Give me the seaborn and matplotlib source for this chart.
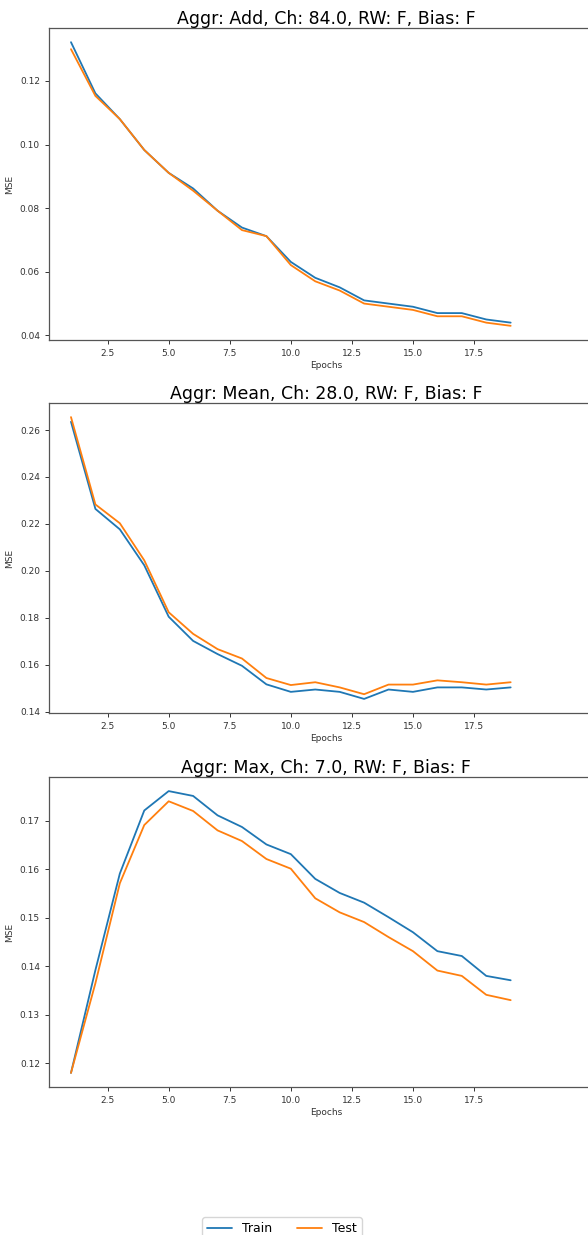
import numpy as np
import pandas as pd
import matplotlib
matplotlib.use("Agg")
import matplotlib.pyplot as plt
import seaborn as sns

epochs = list(range(1, 20))

titles = [
    "Aggr: Add, Ch: 84.0, RW: F, Bias: F",
    "Aggr: Mean, Ch: 28.0, RW: F, Bias: F",
    "Aggr: Max, Ch: 7.0, RW: F, Bias: F",
]

add_train = [0.1322, 0.1161, 0.108, 0.0983, 0.0911, 0.0862, 0.0792, 0.0739, 0.0712, 0.0631,
             0.0581, 0.0551, 0.051, 0.050, 0.049, 0.047, 0.047, 0.045, 0.044]
add_test = [0.130, 0.1153, 0.108, 0.0983, 0.0911, 0.0855, 0.0792, 0.0731, 0.0712, 0.0621,
            0.057, 0.0541, 0.050, 0.049, 0.048, 0.046, 0.046, 0.044, 0.043]

mean_train = [0.2635, 0.2264, 0.2177, 0.2024, 0.1805, 0.1702, 0.1646, 0.1596, 0.1517, 0.1485,
              0.1495, 0.1485, 0.1455, 0.1495, 0.1485, 0.1504, 0.1504, 0.1495, 0.1504]
mean_test = [0.2655, 0.2283, 0.2203, 0.2045, 0.1824, 0.1732, 0.1667, 0.1627, 0.1544, 0.1514,
             0.1526, 0.1504, 0.1475, 0.1516, 0.1516, 0.1534, 0.1526, 0.1516, 0.1526]

max_train = [0.118, 0.1392, 0.1591, 0.1721, 0.1761, 0.1751, 0.1711, 0.1687, 0.1651, 0.1631,
             0.158, 0.1551, 0.1531, 0.1501, 0.147, 0.1431, 0.1421, 0.138, 0.1371]
max_test = [0.118, 0.1365, 0.1571, 0.1691, 0.174, 0.172, 0.168, 0.1658, 0.1621, 0.1601,
            0.154, 0.1511, 0.1491, 0.146, 0.1431, 0.1391, 0.138, 0.1341, 0.133]

series = [(add_train, add_test), (mean_train, mean_test), (max_train, max_test)]
x_ticks = [2.5, 5.0, 7.5, 10.0, 12.5, 15.0, 17.5]
y_ticks = [
    [0.04, 0.06, 0.08, 0.10, 0.12],
    [0.14, 0.16, 0.18, 0.20, 0.22, 0.24, 0.26],
    [0.12, 0.13, 0.14, 0.15, 0.16, 0.17],
]

sns.set_style("ticks")
plt.rcParams['font.family'] = ['DejaVu Sans']

W, H = 588, 1235
fig = plt.figure(figsize=(W / 100, H / 100), dpi=100)

# axes positions in pixels (top, bottom)
pos = [(28, 340), (403, 713), (777, 1087)]
left_px, right_px = 49, 603
palette = {"Train": "#1f77b4", "Test": "#ff7f0e"}
spine_col = "#555555"

handles = None
for i, ((tr, te), (top, bot)) in enumerate(zip(series, pos)):
    ax = fig.add_axes([left_px / W, (H - bot) / H, (right_px - left_px) / W, (bot - top) / H])
    df = pd.DataFrame({
        "Epochs": epochs * 2,
        "MSE": tr + te,
        "Set": ["Train"] * len(tr) + ["Test"] * len(te),
    })
    sns.lineplot(data=df, x="Epochs", y="MSE", hue="Set", palette=palette, ax=ax,
                 linewidth=1.3)
    lo, hi = min(tr + te), max(tr + te)
    m = (hi - lo) * 0.05
    ax.set_ylim(lo - m, hi + m)
    ax.set_xlim(0.1, 22.78)
    ax.set_xticks(x_ticks)
    ax.set_xticklabels([f"{t:.1f}" for t in x_ticks])
    ax.set_yticks(y_ticks[i])
    ax.set_yticklabels([f"{t:.2f}" for t in y_ticks[i]])
    ax.tick_params(labelsize=6.5, colors="#333333", length=3, width=0.7)
    ax.set_xlabel("Epochs", fontsize=6.5, labelpad=2, color="#333333")
    ax.set_ylabel("MSE", fontsize=6.5, labelpad=4, color="#333333")
    ax.set_title(titles[i], fontsize=12.5, pad=2, color="black")
    for s in ax.spines.values():
        s.set_color(spine_col)
        s.set_linewidth(0.9)
    handles, labels = ax.get_legend_handles_labels()
    ax.get_legend().remove()

leg = fig.legend(handles, labels, loc="upper center", bbox_to_anchor=(282 / W, (H - 1211) / H),
                 ncol=2, fontsize=9, frameon=True, columnspacing=2.0, handlelength=2.0,
                 handletextpad=0.8)
for t in leg.get_texts():
    t.set_color("black")

fig.savefig("out.png", dpi=100)
